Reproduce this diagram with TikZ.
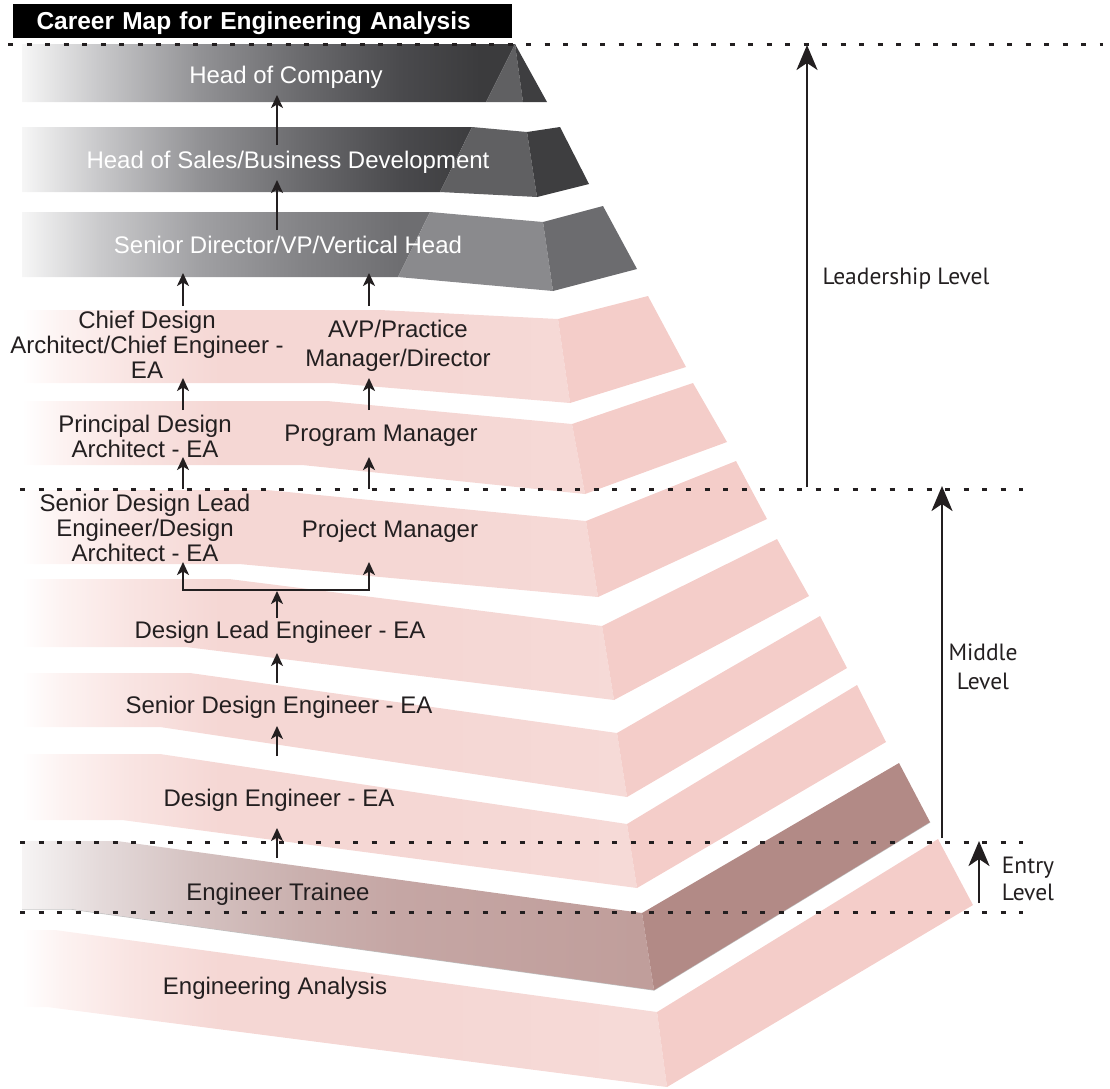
\documentclass[tikz,border=0pt]{standalone}
\usepackage{fontspec}
\setmainfont{Liberation Sans}
\newfontfamily\levelfont{PT Sans}
\usetikzlibrary{arrows.meta}

\definecolor{ink}{HTML}{231F20}
% pink steps
\definecolor{pkA}{HTML}{FDF3F2}
\definecolor{pkB}{HTML}{F9E4E2}
\definecolor{pkC}{HTML}{F5D7D4}
\definecolor{pkD}{HTML}{F6DAD7}
\definecolor{pkSide}{HTML}{F4CDC9}
% dark grey steps
\definecolor{gyA}{HTML}{F6F6F6}
\definecolor{gyB}{HTML}{C8C8CA}
\definecolor{gyC}{HTML}{929295}
\definecolor{gyD}{HTML}{6B6B6E}
\definecolor{gyE}{HTML}{4A4A4D}
\definecolor{gyF}{HTML}{3B3B3D}
\definecolor{gyMid}{HTML}{606062}
\definecolor{gySide}{HTML}{3E3E40}
% lighter grey step
\definecolor{lgB}{HTML}{CACACC}
\definecolor{lgC}{HTML}{A0A0A3}
\definecolor{lgD}{HTML}{848487}
\definecolor{lgE}{HTML}{6E6E71}
\definecolor{lgMid}{HTML}{8A8A8D}
\definecolor{lgSide}{HTML}{6C6C6F}
% trainee step
\definecolor{trA}{HTML}{F6F4F4}
\definecolor{trB}{HTML}{E4DADA}
\definecolor{trC}{HTML}{D4C1C0}
\definecolor{trD}{HTML}{CAB0AE}
\definecolor{trE}{HTML}{C5A6A4}
\definecolor{trF}{HTML}{C09E9B}
\definecolor{trSide}{HTML}{B28A86}

% horizontal fades; 25bp..75bp is stretched over x = 22..700 (pink) or 22..560 (grey)
\pgfdeclarehorizontalshading{pinkfade}{100bp}{color(0bp)=(white); color(25bp)=(white); color(27.8bp)=(pkA); color(33bp)=(pkB); color(39.6bp)=(pkC); color(55bp)=(pkC); color(70bp)=(pkD); color(100bp)=(pkD)}
\pgfdeclarehorizontalshading{trainfade}{100bp}{color(0bp)=(trA); color(25bp)=(trA); color(30.75bp)=(trB); color(38.1bp)=(trC); color(45.5bp)=(trD); color(52.9bp)=(trE); color(70.6bp)=(trF); color(100bp)=(trF)}
\pgfdeclarehorizontalshading{darkfade}{100bp}{color(0bp)=(gyA); color(25bp)=(gyA); color(32.2bp)=(gyB); color(41.5bp)=(gyC); color(50.8bp)=(gyD); color(60.1bp)=(gyE); color(67.6bp)=(gyF); color(100bp)=(gyF)}
\pgfdeclarehorizontalshading{lightfade}{100bp}{color(0bp)=(gyA); color(25bp)=(gyA); color(32.2bp)=(lgB); color(41.5bp)=(lgC); color(50.8bp)=(lgD); color(60.1bp)=(lgE); color(100bp)=(lgE)}

% one step of the pyramid: #1 prefix of its eight corners, #2 front fade, #3 side colour
\newcommand\stepband[3]{%
  \begin{scope}
    \clip (#1a) -- (#1b) -- (#1c) -- (#1f) -- (#1g) -- (#1h) -- cycle;
    \shade[shading=#2] (22,0) rectangle (700,1088);
  \end{scope}
  \fill[#3] (#1c) -- (#1d) -- (#1e) -- (#1f) -- cycle;
}

\begin{document}
\begin{tikzpicture}[x=1pt,y=-1pt,
  btext/.style={font=\fontsize{24}{25}\selectfont, text=ink, inner sep=0pt, align=center},
  oneline/.style={text height=17.2pt, text depth=0pt},
  wtext/.style={btext, oneline, text=white},
  lvl/.style={font=\levelfont\fontsize{23.5}{28}\selectfont, text=ink, inner sep=0pt, align=center},
  uparrow/.style={draw=ink, line width=2pt, -{Stealth[length=13pt,width=12pt,inset=3.5pt]}},
  bigarrow/.style={draw=ink, line width=2.6pt, -{Stealth[length=25pt,width=21pt,inset=7pt]}},
  levelline/.style={draw=ink, line width=3pt, dash pattern=on 5pt off 13.5pt}]

\useasboundingbox (0,0) rectangle (1110,1088);

% ---------- title bar ----------
\node[fill=black, text=white, font=\bfseries\fontsize{24.5}{26}\selectfont,
      minimum width=499pt, minimum height=34pt, text width=499pt, align=left,
      inner sep=0pt, text height=17.5pt, text depth=0pt] (title) at (262.5,21)
      {\hspace*{23.5pt}Career Map for Engineering Analysis};

% ---------- grey steps ----------
% Head of Company
\begin{scope}
  \clip (22,44) -- (515,44) -- (486,102) -- (22,102) -- cycle;
  \shade[shading=darkfade] (22,40) rectangle (560,110);
\end{scope}
\fill[gyMid] (486,102) -- (515,44) -- (523,102) -- cycle;
\fill[gySide] (515,44) -- (547,102) -- (523,102) -- cycle;
% Head of Sales
\begin{scope}
  \clip (22,127) -- (472,127) -- (440,192) -- (22,192) -- cycle;
  \shade[shading=darkfade] (22,120) rectangle (560,200);
\end{scope}
\fill[gyMid] (472,127) -- (527,132) -- (537,197) -- (440,192) -- cycle;
\fill[gySide] (527,132) -- (560,127) -- (589,184) -- (537,197) -- cycle;
% Senior Director
\begin{scope}
  \clip (22,212) -- (430,212) -- (398,277) -- (22,277) -- cycle;
  \shade[shading=lightfade] (22,205) rectangle (560,295);
\end{scope}
\fill[lgMid] (430,212) -- (543,222) -- (553,291) -- (398,277) -- cycle;
\fill[lgSide] (543,222) -- (603,206) -- (637,269) -- (553,291) -- cycle;

% ---------- pink steps: corners a..h ----------
\coordinate (p4a) at (22,310);  \coordinate (p4b) at (380,310); \coordinate (p4c) at (558,319);
\coordinate (p4d) at (648,296); \coordinate (p4e) at (686,367); \coordinate (p4f) at (570,403);
\coordinate (p4g) at (332,383); \coordinate (p4h) at (22,383);

\coordinate (p5a) at (22,401);  \coordinate (p5b) at (327,401); \coordinate (p5c) at (572,424);
\coordinate (p5d) at (693,383); \coordinate (p5e) at (727,442); \coordinate (p5f) at (585,494);
\coordinate (p5g) at (302,465); \coordinate (p5h) at (22,465);

\coordinate (p6a) at (22,490);  \coordinate (p6b) at (267,490); \coordinate (p6c) at (586,521);
\coordinate (p6d) at (736,461); \coordinate (p6e) at (767,519); \coordinate (p6f) at (598,597);
\coordinate (p6g) at (239,564); \coordinate (p6h) at (22,564);

\coordinate (p7a) at (22,579);  \coordinate (p7b) at (229,579); \coordinate (p7c) at (602,626);
\coordinate (p7d) at (777,539); \coordinate (p7e) at (809,596); \coordinate (p7f) at (614,700);
\coordinate (p7g) at (186,647); \coordinate (p7h) at (22,647);

\coordinate (p8a) at (22,673);  \coordinate (p8b) at (190,673); \coordinate (p8c) at (617,733);
\coordinate (p8d) at (820,616); \coordinate (p8e) at (847,668); \coordinate (p8f) at (627,797);
\coordinate (p8g) at (160,727); \coordinate (p8h) at (22,727);

\coordinate (p9a) at (22,754);  \coordinate (p9b) at (160,754); \coordinate (p9c) at (627,824);
\coordinate (p9d) at (857,685); \coordinate (p9e) at (886,742); \coordinate (p9f) at (637,888);
\coordinate (p9g) at (122,820); \coordinate (p9h) at (22,820);

\coordinate (p10a) at (22,841);  \coordinate (p10b) at (117,841); \coordinate (p10c) at (642,913);
\coordinate (p10d) at (899,763); \coordinate (p10e) at (930,822); \coordinate (p10f) at (654,990);
\coordinate (p10g) at (71,909);  \coordinate (p10h) at (22,909);

\coordinate (p11a) at (22,930);  \coordinate (p11b) at (55,930);  \coordinate (p11c) at (657,1012);
\coordinate (p11d) at (938,839); \coordinate (p11e) at (973,905); \coordinate (p11f) at (667,1087);
\coordinate (p11g) at (47,1007); \coordinate (p11h) at (22,1007);

\stepband{p4}{pinkfade}{pkSide}
\stepband{p5}{pinkfade}{pkSide}
\stepband{p6}{pinkfade}{pkSide}
\stepband{p7}{pinkfade}{pkSide}
\stepband{p8}{pinkfade}{pkSide}
\stepband{p9}{pinkfade}{pkSide}
% trainee step with its soft edge
\draw[black!25, line width=1.2pt, shift={(0.8,1.2)}] (p10h) -- (p10g) -- (p10f) -- (p10e);
\stepband{p10}{trainfade}{trSide}
\stepband{p11}{pinkfade}{pkSide}

% ---------- level boundaries ----------
\coordinate (lt0) at (8,44);    \coordinate (lt1) at (1103,44);
\coordinate (lm0) at (20,489);  \coordinate (lm1) at (1023,489);
\coordinate (le0) at (20,842);  \coordinate (le1) at (1023,842);
\coordinate (lb0) at (20,912);  \coordinate (lb1) at (1023,912);
\draw[levelline] (lt0) -- (lt1);
\draw[levelline] (lm0) -- (lm1);
\draw[levelline] (le0) -- (le1);
\draw[levelline] (lb0) -- (lb1);

% ---------- role labels ----------
\node[wtext] (hoc) at (286,75) {Head of Company};
\node[wtext] (hos) at (288,160) {Head of Sales/Business Development};
\node[wtext] (sdv) at (288,245) {Senior Director/VP/Vertical Head};
\node[btext] (cda) at (147,345) {Chief Design\\Architect/Chief Engineer -\\EA};
\node[btext, font=\fontsize{24}{28.5}\selectfont] (avp) at (398,346) {AVP/Practice\\Manager/Director};
\node[btext] (pda) at (145,436) {Principal Design\\Architect - EA};
\node[btext, oneline] (prg) at (381,433) {Program Manager};
\node[btext] (sdl) at (145,528) {Senior Design Lead\\Engineer/Design\\Architect - EA};
\node[btext, oneline] (prj) at (390,529) {Project Manager};
\node[btext, oneline] (dle) at (280,630) {Design Lead Engineer - EA};
\node[btext, oneline] (sde) at (279,705) {Senior Design Engineer - EA};
\node[btext, oneline] (dse) at (279,798) {Design Engineer - EA};
\node[btext, oneline] (etr) at (278,892) {Engineer Trainee};
\node[btext, oneline] (ean) at (275,986) {Engineering Analysis};

% ---------- promotion arrows ----------
\coordinate (s1) at (277,145);  \coordinate (t1) at (277,95);
\coordinate (s2) at (277,230);  \coordinate (t2) at (277,180);
\coordinate (s3l) at (183,306); \coordinate (t3l) at (183,273);
\coordinate (s3r) at (369,306); \coordinate (t3r) at (369,273);
\coordinate (s4l) at (183,410); \coordinate (t4l) at (183,378);
\coordinate (s4r) at (369,410); \coordinate (t4r) at (369,378);
\coordinate (s5l) at (183,489); \coordinate (t5l) at (183,457);
\coordinate (s5r) at (369,489); \coordinate (t5r) at (369,457);
\coordinate (bk0) at (277,618); \coordinate (bkm) at (277,591);
\coordinate (bkl) at (183,590); \coordinate (bkr) at (369,590);
\coordinate (t6l) at (183,562); \coordinate (t6r) at (369,562);
\coordinate (s7) at (277,683);  \coordinate (t7) at (277,653);
\coordinate (s8) at (277,756);  \coordinate (t8) at (277,726);
\coordinate (s9) at (277,858);  \coordinate (t9) at (277,828);

\draw[uparrow] (s1) -- (t1);
\draw[uparrow] (s2) -- (t2);
\draw[uparrow] (s3l) -- (t3l);
\draw[uparrow] (s3r) -- (t3r);
\draw[uparrow] (s4l) -- (t4l);
\draw[uparrow] (s4r) -- (t4r);
\draw[uparrow] (s5l) -- (t5l);
\draw[uparrow] (s5r) -- (t5r);
\draw[uparrow] (bk0) -- (bkm);
\draw[draw=ink, line width=2pt, line cap=rect] (bkl) -- (bkr);
\draw[uparrow] (bkl) -- (t6l);
\draw[uparrow] (bkr) -- (t6r);
\draw[uparrow] (s7) -- (t7);
\draw[uparrow] (s8) -- (t8);
\draw[uparrow] (s9) -- (t9);

% ---------- level arrows and labels ----------
\coordinate (ld0) at (807,487); \coordinate (ld1) at (807,45);
\coordinate (md0) at (942,838); \coordinate (md1) at (942,486);
\coordinate (en0) at (979,903); \coordinate (en1) at (979,841);
\draw[bigarrow] (ld0) -- (ld1);
\draw[bigarrow] (md0) -- (md1);
\draw[bigarrow] (en0) -- (en1);
\node[lvl, text height=16.5pt, text depth=0pt] (lead) at (906,276) {Leadership Level};
\node[lvl, font=\levelfont\fontsize{23.5}{29}\selectfont] (midl) at (983,667) {Middle\\Level};
\node[lvl, font=\levelfont\fontsize{23.5}{27}\selectfont] (entl) at (1028,879) {Entry\\Level};
\end{tikzpicture}
\end{document}
